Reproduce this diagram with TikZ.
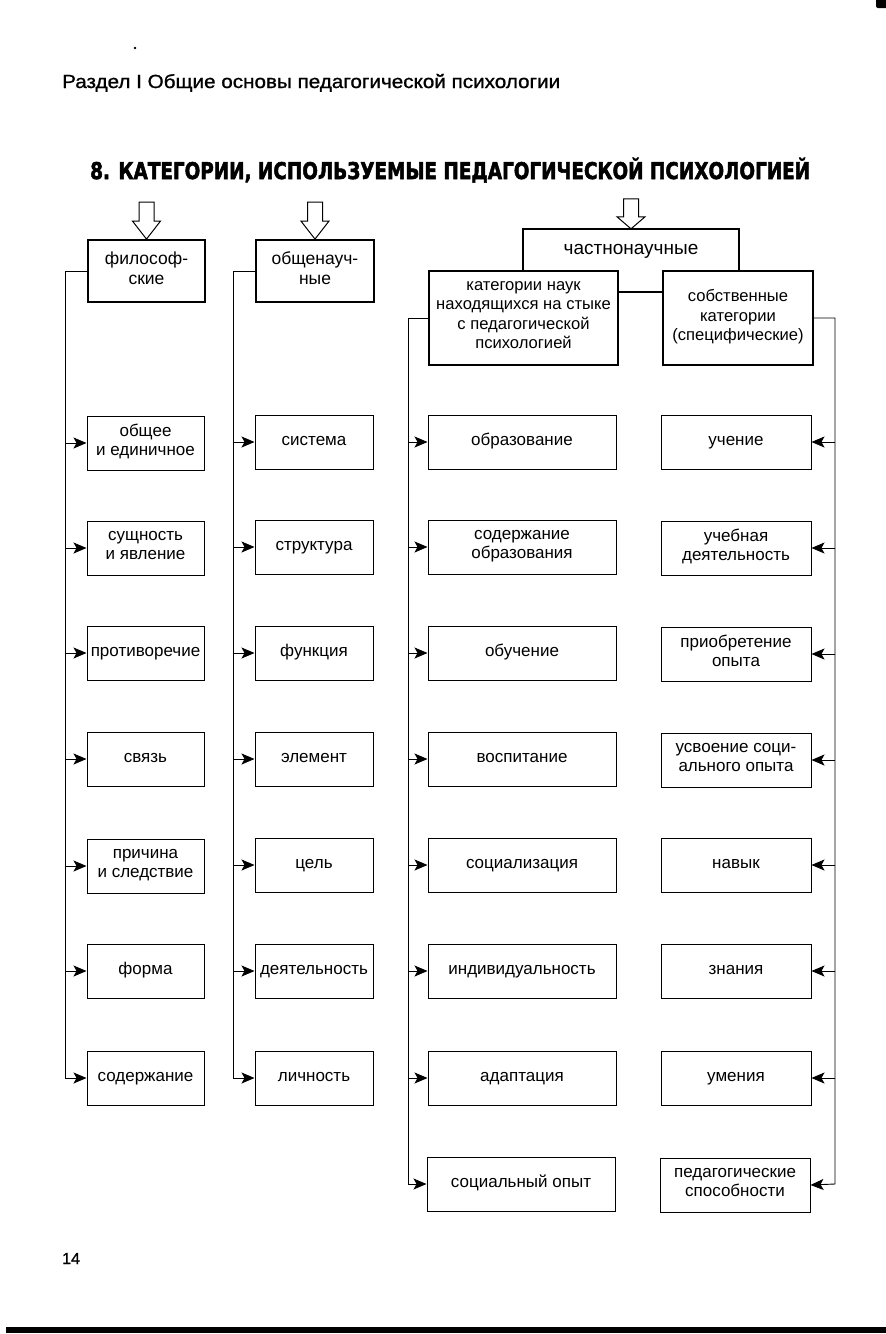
\documentclass[tikz,border=0pt]{standalone}
\usepackage{fontspec}
\usepackage{graphicx}
\setmainfont{Liberation Sans}
\newfontfamily\titlefont[FakeBold=2.5]{DejaVu Sans Bold}
\newfontfamily\headfont[FakeBold=1]{Liberation Sans}
\usetikzlibrary{arrows.meta}
\begin{document}
\begin{tikzpicture}[x=1pt,y=-1pt,
  box/.style={draw,line width=1pt,minimum height=54pt,align=center,inner sep=0pt,
    font=\fontsize{17}{19}\selectfont,
    execute at begin node=\strut, execute at end node=\strut},
  c1/.style={box,minimum width=117pt},
  c2/.style={box,minimum width=118pt},
  c3/.style={box,minimum width=188pt},
  c4/.style={box,minimum width=150pt},
  topbox/.style={draw,line width=1.8pt,align=center,inner sep=0pt,
    font=\fontsize{17.5}{20}\selectfont,
    execute at begin node=\strut, execute at end node=\strut},
  subbox/.style={draw,line width=1.8pt,align=center,inner sep=0pt,minimum height=94pt,
    font=\fontsize{16.6}{19.5}\selectfont,
    execute at begin node=\strut, execute at end node=\strut},
  arr/.style={line width=0.9pt,-{Stealth[length=13pt,width=11pt,inset=3pt]}},
  blockarrow/.style={line width=1pt,fill=white}
]
\useasboundingbox (0,0) rectangle (886,1334);

% header and title
\node[anchor=base west,inner sep=0pt,font=\headfont\fontsize{19}{21}\selectfont] (header) at (62,88)
  {\resizebox{498pt}{\height}{Раздел I Общие основы педагогической психологии}};
\node[anchor=base west,inner sep=0pt,font=\titlefont\fontsize{23}{26}\selectfont] (title) at (90,179)
  {\resizebox{720pt}{\height}{8. КАТЕГОРИИ, ИСПОЛЬЗУЕМЫЕ ПЕДАГОГИЧЕСКОЙ ПСИХОЛОГИЕЙ}};

% top boxes
\node[topbox,minimum width=117pt,minimum height=62pt] (phil) at (146.5,271) {философ-\\ские};
\node[topbox,minimum width=118pt,minimum height=62pt] (gen) at (315,271) {общенауч-\\ные};
\node[inner sep=0pt,minimum width=216pt,minimum height=42pt,font=\fontsize{19}{21}\selectfont,
  execute at begin node=\strut] (part) at (631,250) {частнонаучные};
\draw[line width=1.8pt] (part.south west) -- (part.north west) -- (part.north east) -- (part.south east);
\node[subbox,minimum width=189pt] (cat) at (523.5,318) {категории наук\\находящихся на стыке\\с педагогической\\психологией};
\node[subbox,minimum width=150pt] (own) at (738,318) {собственные\\категории\\(специфические)};
\draw[line width=1.8pt] ([yshift=26pt]cat.east) -- ([yshift=26pt]own.west);

% block arrows
\foreach \n/\h/\s in {phil/18/19, gen/18/19, part/12/18}{
  \draw[blockarrow] (\n.north) -- ++(-14,-\h) -- ++(6.5,0) -- ++(0,-\s) -- ++(15,0)
    -- ++(0,\s) -- ++(6.5,0) -- cycle;
}

% column 1
\node[c1] (p1) at (145.5,443) {общее\\и единичное};
\node[c1] (p2) at (145.5,548) {сущность\\и явление};
\node[c1] (p3) at (145.5,653) {противоречие};
\node[c1] (p4) at (145.5,759) {связь};
\node[c1] (p5) at (145.5,866) {причина\\и следствие};
\node[c1] (p6) at (145.5,971) {форма};
\node[c1] (p7) at (145.5,1078) {содержание};

% column 2
\node[c2] (g1) at (314,442) {система};
\node[c2] (g2) at (314,547) {структура};
\node[c2] (g3) at (314,653) {функция};
\node[c2] (g4) at (314,759) {элемент};
\node[c2] (g5) at (314,865) {цель};
\node[c2] (g6) at (314,971) {деятельность};
\node[c2] (g7) at (314,1078) {личность};

% column 3 left
\node[c3] (s1) at (522,442) {образование};
\node[c3] (s2) at (522,547) {содержание\\образования};
\node[c3] (s3) at (522,653) {обучение};
\node[c3] (s4) at (522,759) {воспитание};
\node[c3] (s5) at (522,865) {социализация};
\node[c3] (s6) at (522,971) {индивидуальность};
\node[c3] (s7) at (522,1078) {адаптация};
\node[c3] (s8) at (521,1184) {социальный опыт};

% column 3 right
\node[c4] (o1) at (736,442) {учение};
\node[c4] (o2) at (736,548) {учебная\\деятельность};
\node[c4] (o3) at (736,654) {приобретение\\опыта};
\node[c4] (o4) at (736,760) {усвоение соци-\\ального опыта};
\node[c4] (o5) at (736,865) {навык};
\node[c4] (o6) at (736,971) {знания};
\node[c4] (o7) at (736,1078) {умения};
\node[c4] (o8) at (735,1185) {педагогические\\способности};

% buses
\coordinate (b1) at (65,1078);
\coordinate (b2) at (233,1078);
\coordinate (b3) at (408,1184);
\coordinate (b4) at (835,1184);
\draw[arr] (phil.west) -| (b1) -- (p7.west);
\draw[arr] (gen.west) -| (b2) -- (g7.west);
\draw[arr] (cat.west) -| (b3) -- (s8.west);
\draw[arr] (own.east) -| (b4) -- (o8.east);
\foreach \i in {1,...,6}{
  \draw[arr] (b1 |- p\i.west) -- (p\i.west);
  \draw[arr] (b2 |- g\i.west) -- (g\i.west);
}
\foreach \i in {1,...,7}{
  \draw[arr] (b3 |- s\i.west) -- (s\i.west);
  \draw[arr] (b4 |- o\i.east) -- (o\i.east);
}

% page number and scan marks
\node[anchor=base west,inner sep=0pt,font=\headfont\fontsize{16}{18}\selectfont] (pagenum) at (62,1264) {14};
\fill (135,48) circle (1.3);
\fill[rounded corners=2pt] (876,-2) rectangle (888,8);
\fill (6,1327) rectangle (886,1333);
\end{tikzpicture}
\end{document}
